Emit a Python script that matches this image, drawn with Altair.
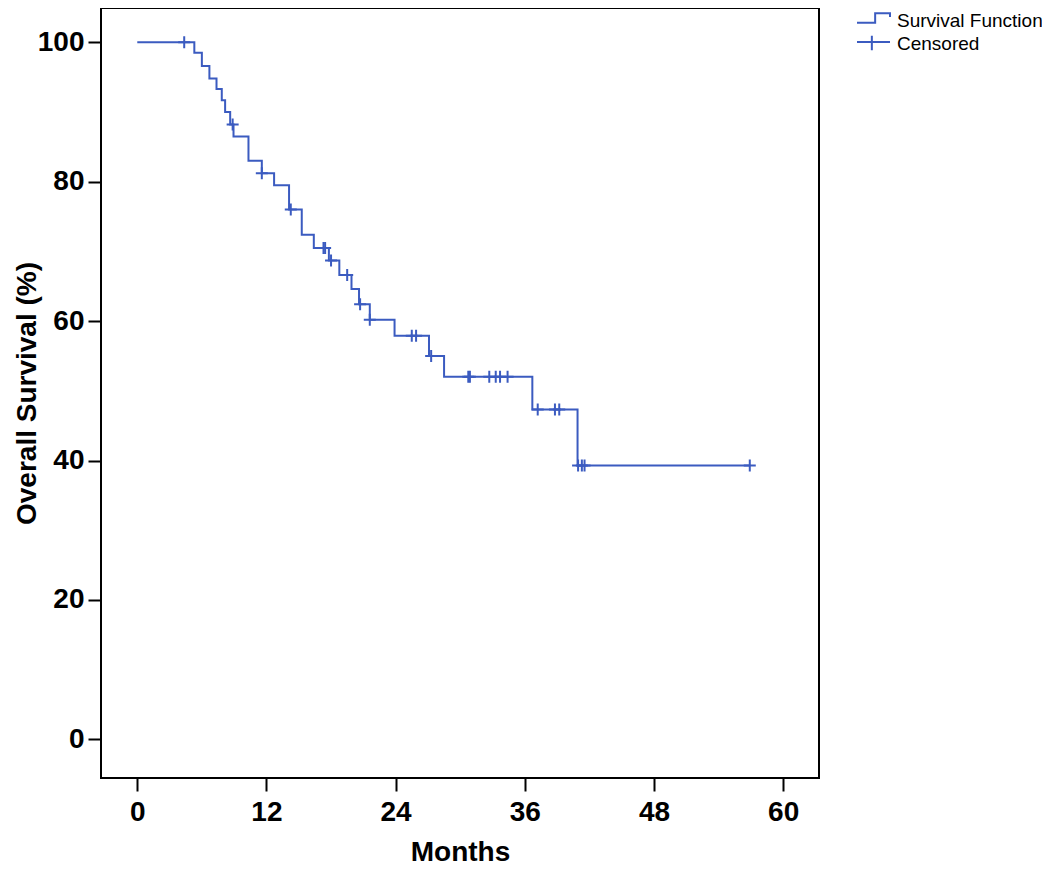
import altair as alt
import pandas as pd

# ---- data ----
event_months = [0, 5.3, 6.0, 6.7, 7.36, 7.85, 8.16, 8.63, 8.94, 10.33, 11.57, 12.71,
                14.1, 15.28, 16.4, 17.8, 18.77, 19.9, 20.6, 21.6, 23.9, 27.1, 28.5,
                36.7, 40.9, 56.9]
survival_pct = [100, 98.5, 96.6, 94.8, 93.3, 91.7, 90.0, 88.2, 86.5, 83.0, 81.2, 79.5,
                76.0, 72.4, 70.5, 68.7, 66.6, 64.6, 62.4, 60.2, 57.9, 55.0, 52.0,
                47.3, 39.3, 39.3]

censor_months = [4.36, 8.86, 11.57, 14.26, 17.3, 17.45, 18.0, 19.5, 20.7, 21.6, 25.5,
                 25.9, 27.3, 30.75, 30.9, 32.7, 33.3, 33.7, 34.4, 37.2, 38.8, 39.2,
                 40.95, 41.3, 41.55, 56.9]
censor_pct = [100, 88.2, 81.2, 76.0, 70.5, 70.5, 68.7, 66.6, 62.4, 60.2, 57.9, 57.9,
              55.0, 52.0, 52.0, 52.0, 52.0, 52.0, 52.0, 47.3, 47.3, 47.3, 39.3, 39.3,
              39.3, 39.3]

x_ticks = [0, 12, 24, 36, 48, 60]
y_ticks = [0, 20, 40, 60, 80, 100]
legend_labels = ["Survival Function", "Censored"]

BLUE = "#3b5bc0"
FONT = "Liberation Sans, Arial, sans-serif"

surv_df = pd.DataFrame({"months": event_months, "survival": survival_pct})
cens_df = pd.DataFrame({"months": censor_months, "survival": censor_pct})
leg_df = pd.DataFrame({"series": legend_labels})

x_scale = alt.Scale(domain=[-3.37, 63.33], nice=False, zero=False)
y_scale = alt.Scale(domain=[-5.55, 104.92], nice=False, zero=False)

x_axis = alt.Axis(values=x_ticks, title="Months", grid=False, domain=False,
                  tickColor="black", tickWidth=2, tickSize=13,
                  labelFont=FONT, labelFontSize=28, labelFontWeight="bold",
                  labelColor="black", labelPadding=7, labelFlush=False,
                  titleFont=FONT, titleFontSize=28, titleFontWeight="bold",
                  titleColor="black", titleBaseline="alphabetic", titleY=82, titleX=359)
y_axis = alt.Axis(values=y_ticks, title="Overall Survival (%)", grid=False, domain=False,
                  tickColor="black", tickWidth=2, tickSize=13, format="d",
                  labelFont=FONT, labelFontSize=28, labelFontWeight="bold",
                  labelColor="black", labelPadding=4, labelFlush=False,
                  titleFont=FONT, titleFontSize=28, titleFontWeight="bold",
                  titleColor="black", titleBaseline="alphabetic", titleX=-66, titleY=385)

line = alt.Chart(surv_df).mark_line(interpolate="step-after", color=BLUE, strokeWidth=2).encode(
    x=alt.X("months:Q", scale=x_scale, axis=x_axis),
    y=alt.Y("survival:Q", scale=y_scale, axis=y_axis),
)

cens = alt.Chart(cens_df).mark_point(
    shape="M-1,0H1M0,-1V1", size=144, filled=False, color=BLUE, strokeWidth=2, opacity=1
).encode(
    x=alt.X("months:Q", scale=x_scale),
    y=alt.Y("survival:Q", scale=y_scale),
)

step_path = "M-1,0.1H0.1V-0.47H1V-0.25"
cross_path = "M-1,-0.12H1M-0.1,-0.5V0.38"

legend_layer = alt.Chart(leg_df).transform_filter("false").mark_point(
    filled=False, color=BLUE, strokeWidth=2, opacity=1
).encode(
    shape=alt.Shape("series:N",
                    scale=alt.Scale(domain=legend_labels, range=[step_path, cross_path]),
                    legend=alt.Legend(title=None, orient="none", legendX=755, legendY=1.5,
                                      symbolSize=1089, symbolStrokeColor=BLUE,
                                      symbolFillColor="transparent", symbolStrokeWidth=2,
                                      symbolOpacity=1,
                                      labelFont=FONT, labelFontSize=19, labelColor="black",
                                      labelOffset=6, padding=0, rowPadding=0,
                                      clipHeight=23, labelLimit=300)),
)

chart = alt.layer(line, cens, legend_layer).properties(
    width=718, height=770,
    autosize=alt.AutoSizeParams(type="none"),
    padding={"left": 93, "top": 0, "right": 223, "bottom": 90},
    background="white",
).configure_view(stroke="black", strokeWidth=2)

chart.save("out.html", embed_options={"renderer": "svg", "actions": False})
